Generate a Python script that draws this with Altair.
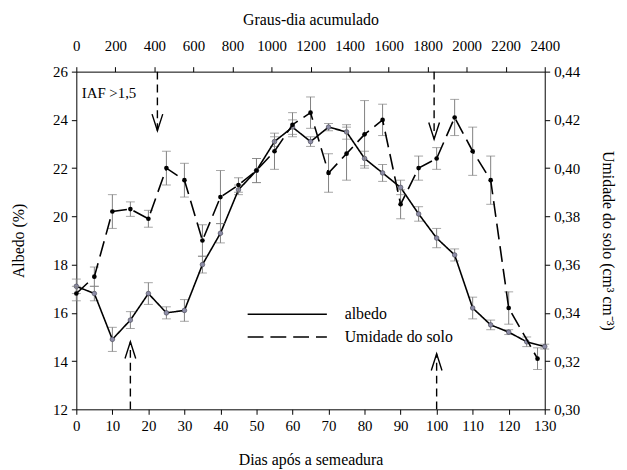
import altair as alt
import pandas as pd

# ---- data ----
days_alb = [0, 5, 10, 15, 20, 25, 30, 35, 40, 45, 50, 55, 60, 65, 70, 75, 80, 85, 90, 95, 100, 105, 110, 115, 120, 125, 130]
albedo = [17.1, 16.8, 14.9, 15.7, 16.8, 16.0, 16.1, 18.0, 19.3, 21.1, 21.9, 23.1, 23.7, 23.1, 23.7, 23.5, 22.4, 21.8, 21.2, 20.1, 19.1, 18.4, 16.2, 15.5, 15.2, 14.8, 14.6]
albedo_err = [0.3, 0.3, 0.5, 0.35, 0.45, 0.25, 0.45, 0.35, 0.4, 0.2, 0.5, 0.2, 0.3, 0.2, 0.15, 0.3, 0.3, 0.35, 0.3, 0.3, 0.4, 0.25, 0.45, 0.2, 0.1, 0.2, 0.1]

days_um = [0, 5, 10, 15, 20, 25, 30, 35, 40, 45, 50, 55, 60, 65, 70, 75, 80, 85, 90, 95, 100, 105, 110, 115, 120, 128]
umidade = [0.348, 0.355, 0.382, 0.383, 0.379, 0.400, 0.395, 0.370, 0.388, 0.393, 0.399, 0.407, 0.418, 0.423, 0.398, 0.406, 0.414, 0.420, 0.385, 0.400, 0.404, 0.421, 0.407, 0.395, 0.342, 0.321]
umidade_err = [0.003, 0.004, 0.007, 0.003, 0.0035, 0.007, 0.007, 0.0065, 0.011, 0.003, 0.005, 0.0075, 0.005, 0.0065, 0.008, 0.011, 0.014, 0.0065, 0.006, 0.005, 0.0045, 0.0075, 0.01, 0.01, 0.0067, 0.0045]

series_names = ["albedo", "Umidade do solo"]
day_ticks = list(range(0, 131, 10))
albedo_ticks = list(range(12, 27, 2))
umidade_ticks = [0.30, 0.32, 0.34, 0.36, 0.38, 0.40, 0.42, 0.44]
gd_ticks = list(range(0, 2401, 200))

# IAF > 1,5 arrows (days, albedo-scale from/to)
arrow_days = [22.5, 99.3, 15.0, 100.0]
arrow_from = [26.0, 26.0, 12.0, 12.0]
arrow_to = [23.55, 23.2, 14.8, 14.3]
arrow_dir = ["down", "down", "up", "up"]
note_text = ["IAF >1,5"]
note_day = [1.5]
note_alb = [25.1]

FONT = "Liberation Serif"

df_alb = pd.DataFrame({
    "dia": days_alb, "v": albedo,
    "lo": [a - e for a, e in zip(albedo, albedo_err)],
    "hi": [a + e for a, e in zip(albedo, albedo_err)],
    "serie": series_names[0],
})
df_um = pd.DataFrame({
    "dia": days_um, "v": umidade,
    "lo": [a - e for a, e in zip(umidade, umidade_err)],
    "hi": [a + e for a, e in zip(umidade, umidade_err)],
    "serie": series_names[1],
})
df_arrow = pd.DataFrame({"dia": arrow_days, "y0": arrow_from, "y1": arrow_to, "dir": arrow_dir})
df_note = pd.DataFrame({"dia": note_day, "y": note_alb, "t": note_text})
df_gd = pd.DataFrame({"gd": [gd_ticks[0], gd_ticks[-1]]})

xscale = alt.Scale(domain=[0, 130], nice=False, zero=False)
x_axis = alt.Axis(values=day_ticks, title="Dias após a semeadura", grid=False,
                  labelOverlap=False, labelFlush=False, format="d", titlePadding=19)
yscale_alb = alt.Scale(domain=[12, 26], nice=False, zero=False)
y_axis_alb = alt.Axis(values=albedo_ticks, title="Albedo (%)", grid=False,
                      labelOverlap=False, labelFlush=False, titlePadding=26)
yscale_um = alt.Scale(domain=[0.30, 0.44], nice=False, zero=False)
y_axis_um = alt.Axis(orient="right", values=umidade_ticks, grid=False, labelOverlap=False,
                     labelFlush=False, title="Umidade do solo (cm³ cm⁻³)", titlePadding=20,
                     labelExpr="replace(format(datum.value, '.2f'), '.', ',')")

dash_scale = alt.Scale(domain=series_names, range=[[1, 0], [16, 7]])

def XA(field):
    return alt.X(field, scale=xscale, axis=x_axis)

def YA(field):
    return alt.Y(field, scale=yscale_alb, axis=y_axis_alb)

def XU(field):
    return alt.X(field, scale=xscale, axis=None)

def YU(field):
    return alt.Y(field, scale=yscale_um, axis=y_axis_um)

# ---- albedo layer (left axis) ----
base_a = alt.Chart(df_alb)
a_rule = base_a.mark_rule(color="#808080", strokeWidth=1).encode(
    x=XA("dia:Q"), y=YA("lo:Q"), y2="hi:Q")
a_cap1 = base_a.mark_tick(color="#808080", size=9, thickness=1, orient="horizontal").encode(
    x=XA("dia:Q"), y=YA("lo:Q"))
a_cap2 = base_a.mark_tick(color="#808080", size=9, thickness=1, orient="horizontal").encode(
    x=XA("dia:Q"), y=YA("hi:Q"))
a_line = base_a.mark_line(color="black", strokeWidth=1.6).encode(
    x=XA("dia:Q"), y=YA("v:Q"),
    strokeDash=alt.StrokeDash("serie:N", scale=dash_scale, legend=alt.Legend(
        title=None, orient="none", legendX=204, legendY=236, padding=0,
        symbolType="M-5,0H5", symbolSize=256, symbolStrokeWidth=1.6,
        symbolStrokeColor="black", symbolFillColor="transparent",
        labelFont=FONT, labelFontSize=16, labelColor="black", rowPadding=6, labelOffset=49)),
)
a_pts = base_a.mark_point(filled=True, size=22, fill="#8c8ca6", stroke="#404050", strokeWidth=0.6, opacity=1).encode(
    x=XA("dia:Q"), y=YA("v:Q"))

arrow_shaft = alt.Chart(df_arrow).mark_rule(color="black", strokeWidth=1.4, strokeDash=[8, 5]).encode(
    x=XA("dia:Q"), y=YA("y0:Q"), y2="y1:Q")
arrow_head = alt.Chart(df_arrow).mark_point(filled=False, size=144, color="black", strokeWidth=1.4, opacity=1).encode(
    x=XA("dia:Q"), y=YA("y1:Q"),
    shape=alt.Shape("dir:N", legend=None, scale=alt.Scale(
        domain=["down", "up"],
        range=["M-0.9,-2.8L0,0L0.9,-2.8", "M-0.9,2.8L0,0L0.9,2.8"])))
note = alt.Chart(df_note).mark_text(align="left", baseline="middle", font=FONT, fontSize=15, color="black").encode(
    x=XA("dia:Q"), y=YA("y:Q"), text="t:N")

layer_a = alt.layer(a_rule, a_cap1, a_cap2, a_line, a_pts, arrow_shaft, arrow_head, note)

# ---- soil moisture layer (right axis) ----
base_u = alt.Chart(df_um)
u_rule = base_u.mark_rule(color="#808080", strokeWidth=1).encode(
    x=XU("dia:Q"), y=YU("lo:Q"), y2="hi:Q")
u_cap1 = base_u.mark_tick(color="#808080", size=9, thickness=1, orient="horizontal").encode(
    x=XU("dia:Q"), y=YU("lo:Q"))
u_cap2 = base_u.mark_tick(color="#808080", size=9, thickness=1, orient="horizontal").encode(
    x=XU("dia:Q"), y=YU("hi:Q"))
u_line = base_u.mark_line(color="black", strokeWidth=1.6).encode(
    x=XU("dia:Q"), y=YU("v:Q"),
    strokeDash=alt.StrokeDash("serie:N", scale=dash_scale),
)
u_pts = base_u.mark_point(filled=True, size=22, color="black", opacity=1).encode(
    x=XU("dia:Q"), y=YU("v:Q"))
layer_u = alt.layer(u_rule, u_cap1, u_cap2, u_line, u_pts)

# ---- top axis (degree-days) ----
top = alt.Chart(df_gd).mark_point(opacity=0).encode(
    x=alt.X("gd:Q", scale=alt.Scale(domain=[0, 2400], nice=False, zero=False),
            axis=alt.Axis(orient="top", values=gd_ticks, title="Graus-dia acumulado", grid=False,
                          labelOverlap=False, labelFlush=False, format="d",
                          labelPadding=13, titlePadding=12)))

chart = alt.layer(layer_a, layer_u, top).resolve_scale(
    x="independent", y="independent", strokeDash="shared"
).properties(
    width=473, height=341,
    autosize=alt.AutoSizeParams(type="none"),
    padding={"left": 69, "top": 62, "right": 75, "bottom": 58},
    background="white",
).configure(font=FONT).configure_view(stroke=None).configure_axis(
    labelFont=FONT, titleFont=FONT, labelFontSize=15, titleFontSize=16,
    labelColor="black", titleColor="black", titleFontWeight="normal",
    domainColor="black", tickColor="black", tickSize=5, domainWidth=1,
    labelPadding=4,
).configure_legend(labelFont=FONT)

chart.save("out.html", embed_options={"renderer": "svg", "actions": False})
